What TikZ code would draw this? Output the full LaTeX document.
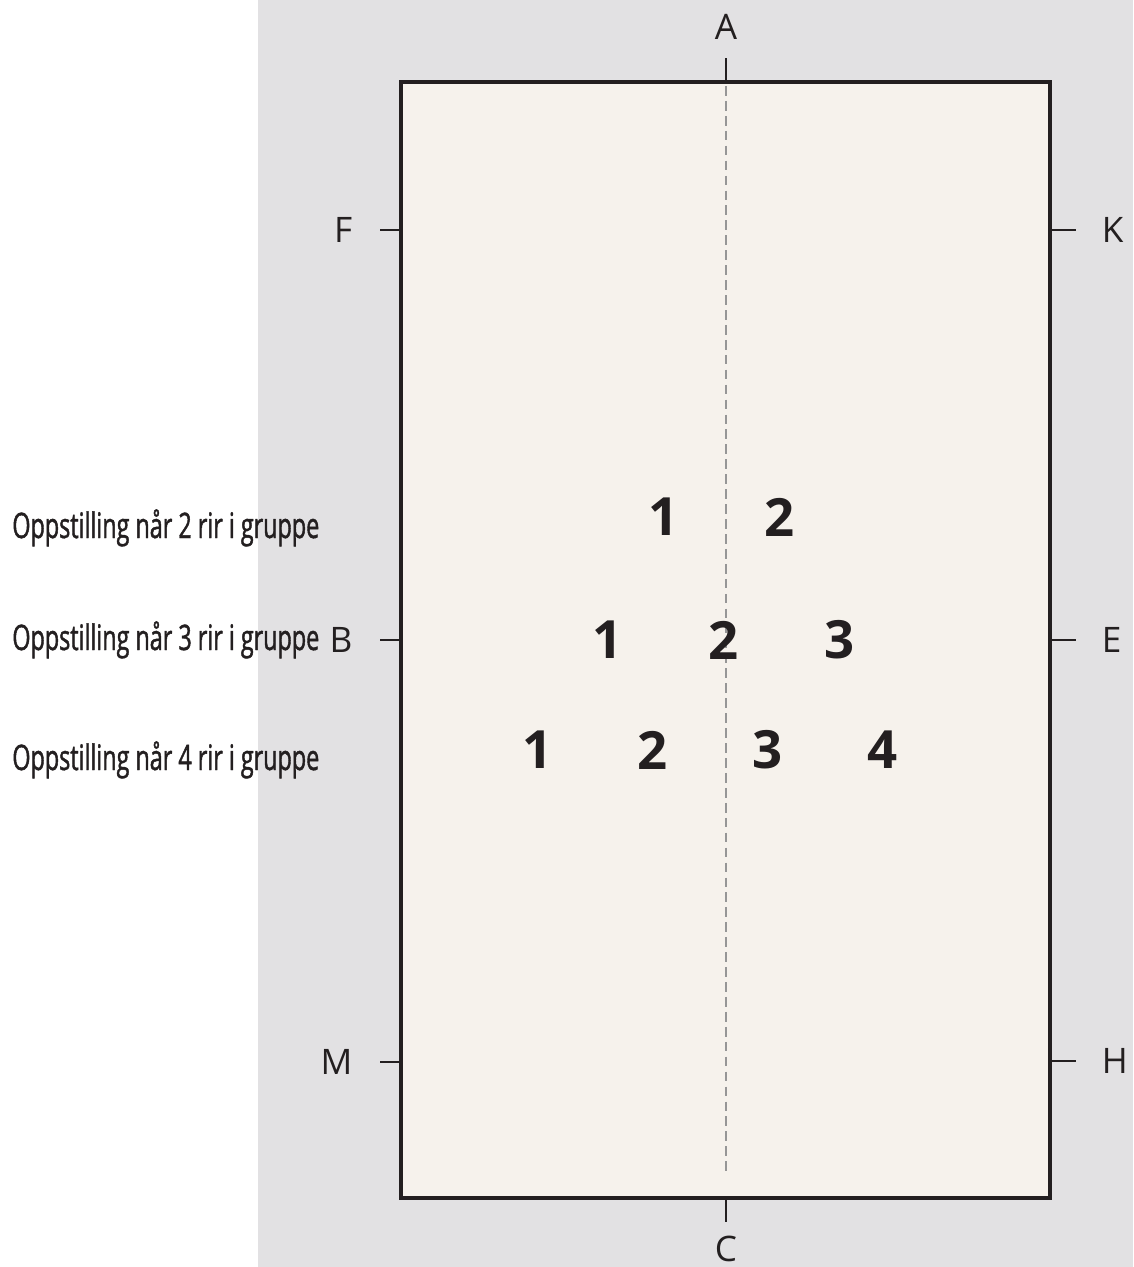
\documentclass[tikz,border=0pt]{standalone}
\usepackage{fontspec}
\setsansfont{Open Sans}
\newfontfamily\condfont[FakeStretch=0.665, FakeBold=1.2]{Open Sans}
\usetikzlibrary{positioning}
\definecolor{ArenaGray}{RGB}{226,225,227}
\definecolor{ArenaSand}{RGB}{246,242,236}
\definecolor{DashGray}{RGB}{150,150,150}
\definecolor{InkBlack}{RGB}{35,31,32}

\begin{document}
\begin{tikzpicture}[x=0.02cm, y=-0.02cm,
  letr/.style={font=\sffamily\fontsize{20}{20}\selectfont, text=InkBlack, inner sep=0pt},
  rider/.style={font=\sffamily\bfseries\fontsize{30}{30}\selectfont, text=InkBlack, inner sep=0pt},
  lbl/.style={font=\condfont\fontsize{20}{20}\selectfont, text=InkBlack, anchor=base west, inner sep=0pt},
  tick/.style={draw=InkBlack, line width=1.5pt},
  arena/.style={draw=InkBlack, fill=ArenaSand, line width=1.8pt},
  midline/.style={draw=DashGray, line width=1.2pt, dash pattern=on 5.5pt off 3pt}]
  \useasboundingbox (0,0) rectangle (1133,1267);
  \fill[ArenaGray] (258,0) rectangle (1133,1267);
  \draw[arena] (401,82) rectangle (1050,1198);
  \coordinate (A-s) at (726,82);
  \coordinate (C-s) at (726,1198);
  \draw[midline] (726,86) -- (726,1175);
  \draw[tick] (A-s) -- ++(0,-24) node[letr, above=10pt] (A) {A};
  \draw[tick] (C-s) -- ++(0,24) node[letr, below=7pt] (C) {C};
  \foreach \nm/\yy in {F/230, B/640, M/1062}{
    \coordinate (\nm-s) at (401,\yy);
    \draw[tick] (\nm-s) -- ++(-21,0) node[letr, left=15pt] (\nm) {\nm};
  }
  \foreach \nm/\yy in {K/230, E/640, H/1061}{
    \coordinate (\nm-s) at (1050,\yy);
    \draw[tick] (\nm-s) -- ++(26,0) node[letr, right=14pt] (\nm) {\nm};
  }
  \node[lbl] (lbl2) at (12,538) {Oppstilling når 2 rir i gruppe};
  \node[lbl] (lbl3) at (12,650) {Oppstilling når 3 rir i gruppe};
  \node[lbl] (lbl4) at (12,770) {Oppstilling når 4 rir i gruppe};
  \node[rider] (two-1) at (664,517) {1};
  \node[rider] (two-2) at (780,517) {2};
  \node[rider] (three-1) at (608,640) {1};
  \node[rider] (three-2) at (724,640) {2};
  \node[rider] (three-3) at (840,640) {3};
  \node[rider] (four-1) at (538,750) {1};
  \node[rider] (four-2) at (653,750) {2};
  \node[rider] (four-3) at (768,750) {3};
  \node[rider] (four-4) at (883,750) {4};
\end{tikzpicture}
\end{document}
